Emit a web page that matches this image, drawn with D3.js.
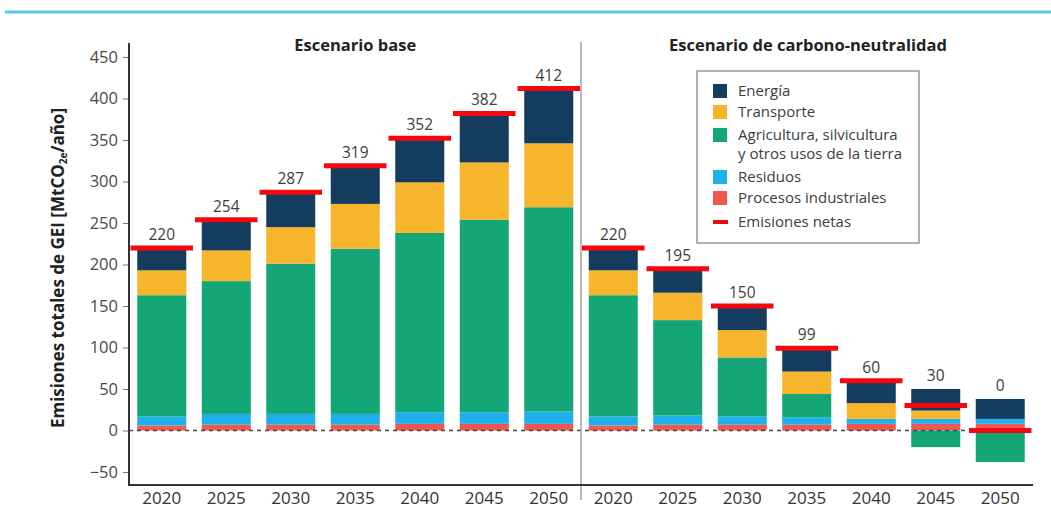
<!DOCTYPE html>
<html>
<head>
<meta charset="utf-8">
<script src="https://cdn.jsdelivr.net/npm/d3@7"></script>
<style>
  body { margin: 0; background: #fff; }
  svg { display: block; font-family: "Open Sans", "Noto Sans", sans-serif; }
</style>
</head>
<body>
<div id="chart"></div>
<script>
const years = ["2020", "2025", "2030", "2035", "2040", "2045", "2050"];
const scenarioTitles = ["Escenario base", "Escenario de carbono-neutralidad"];

// bottom to top
const sectors = ["procesos", "residuos", "agricultura", "transporte", "energia"];
const sectorLabels = {
  energia: ["Energía"],
  transporte: ["Transporte"],
  agricultura: ["Agricultura, silvicultura", "y otros usos de la tierra"],
  residuos: ["Residuos"],
  procesos: ["Procesos industriales"],
};
const legendOrder = ["energia", "transporte", "agricultura", "residuos", "procesos"];

// escenario base
const energiaBase = [27, 37, 42, 46, 53, 59, 66];
const transporteBase = [30, 37, 44, 54, 61, 69, 77];
const agriculturaBase = [146, 160, 181, 199, 216, 232, 246];
const residuosBase = [11, 13, 13, 13, 14, 14, 15];
const procesosBase = [6, 7, 7, 7, 8, 8, 8];
const netasBase = [220, 254, 287, 319, 352, 382, 412];

// escenario de carbono-neutralidad
const energiaNeutral = [27, 29, 29, 28, 27, 26, 24];
const transporteNeutral = [30, 33, 33, 27, 19, 10, 0];
const agriculturaNeutral = [146, 115, 71, 28, 0, -20, -38];
const residuosNeutral = [11, 11, 10, 9, 6, 6, 6];
const procesosNeutral = [6, 7, 7, 7, 8, 8, 8];
const netasNeutral = [220, 195, 150, 99, 60, 30, 0];

const yTicks = [-50, 0, 50, 100, 150, 200, 250, 300, 350, 400, 450];

const color = {
  energia: "#133c5e",
  transporte: "#f7b52b",
  agricultura: "#15a678",
  residuos: "#1eb0ea",
  procesos: "#f0574f",
};
const netColor = "#f5070f";
const textColor = "#3d3d3d";

const rows = [];
years.forEach((yr, i) => rows.push({
  key: "base-" + yr, year: yr,
  energia: energiaBase[i], transporte: transporteBase[i], agricultura: agriculturaBase[i],
  residuos: residuosBase[i], procesos: procesosBase[i], net: netasBase[i],
}));
years.forEach((yr, i) => rows.push({
  key: "neutral-" + yr, year: yr,
  energia: energiaNeutral[i], transporte: transporteNeutral[i], agricultura: agriculturaNeutral[i],
  residuos: residuosNeutral[i], procesos: procesosNeutral[i], net: netasNeutral[i],
}));

const W = 1051, H = 514;
const svg = d3.select("#chart").append("svg")
  .attr("width", W).attr("height", H);

// top cyan rule
svg.append("line")
  .attr("x1", 5).attr("x2", W).attr("y1", 12).attr("y2", 12)
  .attr("stroke", "#5cc6e6").attr("stroke-width", 3);

const axisX = 129, axisRight = 1033, axisBottom = 485;

const x = d3.scaleBand()
  .domain(rows.map(d => d.key))
  .range([axisX, axisRight])
  .paddingInner(0.24)
  .paddingOuter(0.128);

const y = d3.scaleLinear()
  .domain([0, 450])
  .range([430.5, 57]);

const stack = d3.stack().keys(sectors).offset(d3.stackOffsetDiverging);
const series = stack(rows);

// bars
svg.append("g").selectAll("g")
  .data(series)
  .join("g")
  .attr("fill", s => color[s.key])
  .selectAll("rect")
  .data(s => s)
  .join("rect")
  .attr("x", d => x(d.data.key))
  .attr("width", x.bandwidth())
  .attr("y", d => y(Math.max(d[0], d[1])))
  .attr("height", d => Math.abs(y(d[0]) - y(d[1])));

// zero line
svg.append("line")
  .attr("x1", axisX).attr("x2", axisRight - 4)
  .attr("y1", y(0)).attr("y2", y(0))
  .attr("stroke", "#444").attr("stroke-width", 1.3)
  .attr("stroke-dasharray", "4,4");

// net emission lines
const half = x.step() / 2;
svg.append("g").selectAll("line")
  .data(rows)
  .join("line")
  .attr("x1", d => x(d.key) + x.bandwidth() / 2 - half + 1)
  .attr("x2", d => x(d.key) + x.bandwidth() / 2 + half - 1)
  .attr("y1", d => y(d.net))
  .attr("y2", d => y(d.net))
  .attr("stroke", netColor)
  .attr("stroke-width", 5);

// value labels
const posTop = d => d.energia + d.transporte + Math.max(0, d.agricultura) + d.residuos + d.procesos;
svg.append("g").selectAll("text")
  .data(rows)
  .join("text")
  .attr("x", d => x(d.key) + x.bandwidth() / 2)
  .attr("y", d => y(Math.max(posTop(d), d.net)) - 8)
  .attr("text-anchor", "middle")
  .attr("font-size", 15.5)
  .attr("fill", textColor)
  .text(d => d.net);

// separator
const sepX = x(rows[7].key) - x.step() * x.paddingInner() / 2;
svg.append("line")
  .attr("x1", sepX).attr("x2", sepX)
  .attr("y1", 42).attr("y2", 500)
  .attr("stroke", "#8a8a8a").attr("stroke-width", 1.2);

// y axis
const yAxis = svg.append("g")
  .attr("transform", `translate(${axisX},0)`)
  .call(d3.axisLeft(y).tickValues(yTicks).tickSize(6).tickPadding(5));
yAxis.select(".domain").remove();
yAxis.selectAll(".tick line").attr("stroke", "#777");
yAxis.selectAll(".tick text")
  .attr("font-size", 16.5).attr("fill", "#4a4a4a")
  .attr("font-family", "Open Sans, sans-serif");

svg.append("line")
  .attr("x1", axisX).attr("x2", axisX)
  .attr("y1", 43).attr("y2", axisBottom)
  .attr("stroke", "#333").attr("stroke-width", 2);
svg.append("line")
  .attr("x1", axisX - 1).attr("x2", axisRight)
  .attr("y1", axisBottom).attr("y2", axisBottom)
  .attr("stroke", "#333").attr("stroke-width", 2);

// x labels
svg.append("g").selectAll("text")
  .data(rows)
  .join("text")
  .attr("x", d => x(d.key) + x.bandwidth() / 2)
  .attr("y", 504)
  .attr("text-anchor", "middle")
  .attr("font-size", 17)
  .attr("fill", "#333")
  .text(d => d.year);

// scenario titles
const titleX = [
  (x(rows[0].key) + x(rows[6].key) + x.bandwidth()) / 2,
  808,
];
svg.append("g").selectAll("text")
  .data(scenarioTitles)
  .join("text")
  .attr("x", (d, i) => titleX[i])
  .attr("y", 51)
  .attr("text-anchor", "middle")
  .attr("font-size", 16.5)
  .attr("font-weight", "bold")
  .attr("fill", "#222")
  .text(d => d);

// y axis title
const yTitle = svg.append("text")
  .attr("transform", "translate(64,268) rotate(-90)")
  .attr("text-anchor", "middle")
  .attr("font-size", 17)
  .attr("font-weight", "bold")
  .attr("fill", "#222");
yTitle.append("tspan").text("Emisiones totales de GEI [MtCO");
yTitle.append("tspan").attr("font-size", 10).attr("dy", 3).text("2e");
yTitle.append("tspan").attr("dy", -3).text("/año]");

// legend
const legend = svg.append("g");
legend.append("rect")
  .attr("x", 697).attr("y", 71).attr("width", 222).attr("height", 172)
  .attr("fill", "#fff").attr("stroke", "#999").attr("stroke-width", 1.5);

const rowY = { energia: 91, transporte: 112, agricultura: 135, residuos: 177, procesos: 198 };
const items = legend.selectAll("g.item")
  .data(legendOrder)
  .join("g")
  .attr("class", "item");
items.append("rect")
  .attr("x", 713).attr("y", d => rowY[d] - 7)
  .attr("width", 14).attr("height", 14)
  .attr("fill", d => color[d]);
items.append("text")
  .attr("x", 738).attr("y", d => rowY[d] + 5)
  .attr("font-size", 15)
  .attr("fill", textColor)
  .selectAll("tspan")
  .data(d => sectorLabels[d])
  .join("tspan")
  .attr("x", 738)
  .attr("dy", (t, i) => i === 0 ? 0 : 18.5)
  .text(t => t);

legend.append("line")
  .attr("x1", 713).attr("x2", 728).attr("y1", 222).attr("y2", 222)
  .attr("stroke", netColor).attr("stroke-width", 4);
legend.append("text")
  .attr("x", 738).attr("y", 227)
  .attr("font-size", 15).attr("fill", textColor)
  .text("Emisiones netas");
</script>
</body>
</html>
